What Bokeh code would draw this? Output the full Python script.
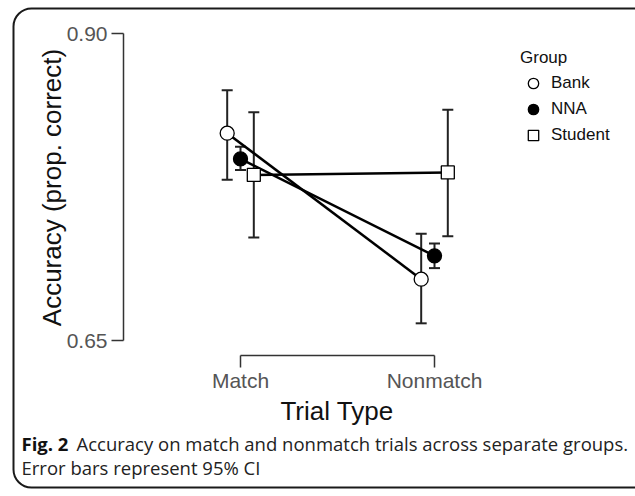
import math
from bokeh.plotting import figure
from bokeh.models import (ColumnDataSource, Whisker, TeeHead, FixedTicker, NumeralTickFormatter,
                          Legend, LegendItem, BoxAnnotation, Label)
from bokeh.core.properties import value
from bokeh.embed import file_html
from bokeh.resources import INLINE

# ---- data ----
trial_types = ["Match", "Nonmatch"]
trial_pos = [1, 2]
groups = ["Bank", "NNA", "Student"]

bank_mean = [0.819, 0.700]
bank_lo = [0.781, 0.664]
bank_hi = [0.854, 0.737]

nna_mean = [0.798, 0.719]
nna_lo = [0.789, 0.709]
nna_hi = [0.808, 0.729]

student_mean = [0.785, 0.787]
student_lo = [0.734, 0.735]
student_hi = [0.836, 0.838]

y_ticks = [0.65, 0.90]

x_title = "Trial Type"
y_title = "Accuracy (prop. correct)"
caption_bold = "Fig. 2"
caption_line1 = "Accuracy on match and nonmatch trials across separate groups."
caption_line2 = "Error bars represent 95% CI"

# ---- layout helpers: the plot frame covers the whole canvas ----
W, H = 635, 496
PX_X1, PX_PER_X = 240.0, 194.0        # pixel of x=1, pixels per x unit
PX_Y90, PX_PER_Y = 33.3, 1226.8       # pixel of y=0.90, pixels per y unit


def dx(px):
    return 1 + (px - PX_X1) / PX_PER_X


def dy(py):
    return 0.90 - (py - PX_Y90) / PX_PER_Y


FONT = "Liberation Sans"
p = figure(width=W, height=H, output_backend="svg", toolbar_location=None, title=None,
           x_range=(dx(0), dx(W)), y_range=(dy(H), dy(0)),
           min_border=0, min_border_left=0, min_border_right=0,
           min_border_top=0, min_border_bottom=0)
p.grid.visible = False
p.outline_line_color = None
p.background_fill_color = "white"
p.border_fill_color = "white"

# y axis (range frame, drawn at a fixed place)
ya = p.yaxis[0]
ya.fixed_location = dx(123)
ya.ticker = FixedTicker(ticks=y_ticks)
ya.formatter = NumeralTickFormatter(format="0.00")
ya.bounds = (min(y_ticks), max(y_ticks))
ya.minor_tick_line_color = None
ya.major_tick_out = 12
ya.major_tick_in = 0
ya.axis_line_color = "#333333"
ya.major_tick_line_color = "#333333"
ya.axis_line_width = 1.5
ya.major_tick_line_width = 1.5
ya.major_label_text_font = FONT
ya.major_label_text_font_size = "21px"
ya.major_label_text_color = "#555555"
ya.major_label_standoff = 4

# x axis (bracket)
xa = p.xaxis[0]
xa.fixed_location = dy(355)
xa.ticker = FixedTicker(ticks=trial_pos)
xa.major_label_overrides = {pos: name for pos, name in zip(trial_pos, trial_types)}
xa.bounds = (min(trial_pos), max(trial_pos))
xa.minor_tick_line_color = None
xa.major_tick_out = 12
xa.major_tick_in = 0
xa.axis_line_color = "#333333"
xa.major_tick_line_color = "#333333"
xa.axis_line_width = 1.5
xa.major_tick_line_width = 1.5
xa.major_label_text_font = FONT
xa.major_label_text_font_size = "21px"
xa.major_label_text_color = "#555555"
xa.major_label_standoff = 1

# axis titles
p.text(x=[dx(51)], y=[dy(187)], text=[y_title], angle=math.pi / 2,
       text_font=value(FONT), text_font_size="26px", text_color="#111111",
       text_align="center", text_baseline="middle")
p.text(x=[dx(336.5)], y=[dy(410)], text=[x_title],
       text_font=value(FONT), text_font_size="26px", text_color="#111111",
       text_align="center", text_baseline="middle")

dodge = {"Bank": -0.0686, "NNA": 0.0, "Student": 0.0686}
series = {
    "Bank": (bank_mean, bank_lo, bank_hi, "circle", "white"),
    "NNA": (nna_mean, nna_lo, nna_hi, "circle", "black"),
    "Student": (student_mean, student_lo, student_hi, "square", "white"),
}

for g in groups:
    mean, lo, hi, marker, fill = series[g]
    xs = [x + dodge[g] for x in trial_pos]
    src = ColumnDataSource(dict(x=xs, mean=mean, lo=lo, hi=hi))
    w = Whisker(source=src, base="x", lower="lo", upper="hi", level="underlay",
                line_color="#222222", line_width=2,
                upper_head=TeeHead(size=11, line_color="#222222", line_width=2),
                lower_head=TeeHead(size=11, line_color="#222222", line_width=2))
    p.add_layout(w)
    p.line("x", "mean", source=src, line_color="black", line_width=2.5)

renderers = {}
for g in groups:
    mean, lo, hi, marker, fill = series[g]
    xs = [x + dodge[g] for x in trial_pos]
    src = ColumnDataSource(dict(x=xs, mean=mean))
    size = 14 if marker == "circle" else 13
    r = p.scatter("x", "mean", source=src, marker=marker, size=size,
                  fill_color=fill, line_color="black", line_width=1.3)
    renderers[g] = r

legend = Legend(items=[LegendItem(label=g, renderers=[renderers[g]]) for g in groups],
                title="Group", location=(520, 348),
                title_text_font=FONT, title_text_font_size="17px", title_text_font_style="normal",
                title_text_color="#111111", title_standoff=2,
                label_text_font=FONT, label_text_font_size="17px", label_text_color="#111111",
                glyph_width=26, glyph_height=26, label_height=18, spacing=0, label_standoff=5,
                padding=0, margin=0, border_line_color=None, background_fill_alpha=0)
p.add_layout(legend)

# rounded frame around the whole figure panel
box = BoxAnnotation(left=dx(13), right=dx(700), top=dy(8), bottom=dy(487),
                    fill_alpha=0, line_color="#1a1a1a", line_alpha=1.0, line_width=2,
                    border_radius=18, level="overlay")
p.add_layout(box)

# caption
CAP = "Open Sans"
p.add_layout(Label(x=dx(21), y=dy(443), text=caption_bold,
                   text_font=CAP, text_font_style="bold", text_font_size="18.5px",
                   text_baseline="middle", text_color="#111111"))
p.add_layout(Label(x=dx(76), y=dy(443), text=caption_line1,
                   text_font=CAP, text_font_size="18.5px", text_baseline="middle", text_color="#222222"))
p.add_layout(Label(x=dx(21), y=dy(467), text=caption_line2,
                   text_font=CAP, text_font_size="18.5px", text_baseline="middle", text_color="#222222"))

open("out.html", "w").write(file_html(p, INLINE))
